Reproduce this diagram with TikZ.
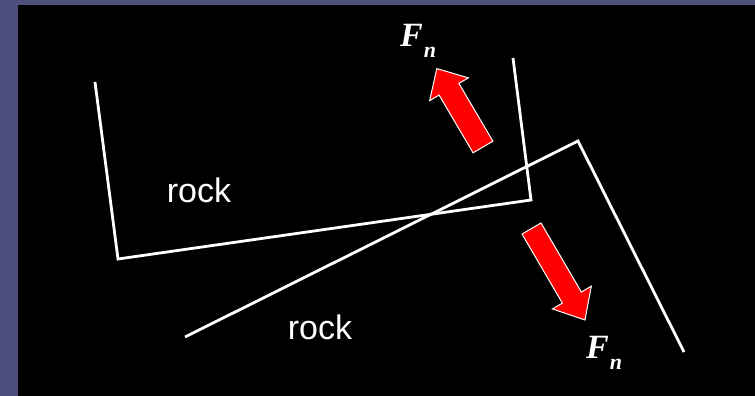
\documentclass[tikz,border=0pt]{standalone}
\usepackage{fontspec}
\setmainfont{Liberation Serif}
\setsansfont{Liberation Sans}
\definecolor{slide}{RGB}{78,78,124}
\begin{document}
\begin{tikzpicture}[x=1pt,y=1pt,
  rockline/.style={white, line width=2.8pt},
  fnarrow/.style={fill=red, draw=white, line width=1pt},
  rocktext/.style={white, font=\sffamily\fontsize{34}{34}\selectfont, inner sep=0pt, anchor=base},
  fnlabel/.style={white, font=\bfseries\itshape\fontsize{34}{34}\selectfont, inner sep=0pt, anchor=base west}]
  % Fundo
  \fill[slide] (0,0) rectangle (755,396);
  \fill[black] (18,0) rectangle (755,391);
  % Rochas
  \draw[rockline] (95,314) -- (118,137) -- (531,196) -- (513,338);
  \draw[rockline] (185,59) -- (578,255) -- (684,44);
  % Forças normais
  \draw[fnarrow, shift={(483,249)}, rotate=120.5] (0,-11.5) -- (67,-11.5) -- (67,-22.5) -- (91,0) -- (67,22.5) -- (67,11.5) -- (0,11.5) -- cycle;
  \draw[fnarrow, shift={(531.5,167.5)}, rotate=-59.7] (0,-11) -- (80,-11) -- (80,-22.5) -- (106,0) -- (80,22.5) -- (80,11) -- (0,11) -- cycle;
  % Rótulos
  \node (rockA) at (199,193) [rocktext] {rock};
  \node (rockB) at (320,56) [rocktext] {rock};
  \node (fnUp) at (400,349) [fnlabel] {F\kern1pt\raisebox{-11pt}{\fontsize{22}{22}\selectfont n}};
  \node (fnDown) at (586,37) [fnlabel] {F\kern1pt\raisebox{-11pt}{\fontsize{22}{22}\selectfont n}};
\end{tikzpicture}
\end{document}
